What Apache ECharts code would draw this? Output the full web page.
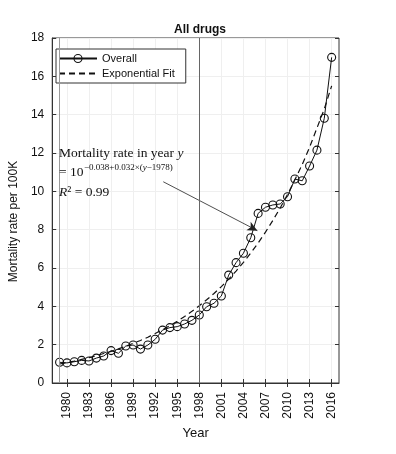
<!DOCTYPE html>
<html>
<head>
<meta charset="utf-8">
<script src="https://cdn.jsdelivr.net/npm/echarts@6/dist/echarts.min.js"></script>
<style>
  html, body { margin: 0; padding: 0; background: #fff; }
  #chart { width: 396px; height: 454px; }
</style>
</head>
<body>
<div id="chart"></div>
<script>
// 年份與死亡率 (每十萬人)
const years = [1979, 1980, 1981, 1982, 1983, 1984, 1985, 1986, 1987, 1988,
  1989, 1990, 1991, 1992, 1993, 1994, 1995, 1996, 1997, 1998,
  1999, 2000, 2001, 2002, 2003, 2004, 2005, 2006, 2007, 2008,
  2009, 2010, 2011, 2012, 2013, 2014, 2015, 2016]
const overall = [1.08, 1.05, 1.11, 1.18, 1.15, 1.30, 1.41, 1.69, 1.55, 1.93,
  1.98, 1.77, 1.98, 2.28, 2.76, 2.89, 2.94, 3.08, 3.27, 3.55,
  3.98, 4.16, 4.54, 5.63, 6.28, 6.77, 7.58, 8.85, 9.17, 9.29,
  9.34, 9.72, 10.64, 10.55, 11.32, 12.15, 13.81, 16.99]
// 指數擬合曲線
const expFit = [0.99, 1.06, 1.14, 1.23, 1.32, 1.43, 1.54, 1.65, 1.78, 1.92,
  2.07, 2.22, 2.39, 2.58, 2.78, 2.99, 3.22, 3.47, 3.74, 4.03,
  4.34, 4.67, 5.03, 5.42, 5.84, 6.29, 6.78, 7.30, 7.87, 8.48,
  9.13, 9.84, 10.6, 11.4, 12.3, 13.3, 14.3, 15.5]
// 刻度
const xTicks = [1980, 1983, 1986, 1989, 1992, 1995, 1998, 2001, 2004, 2007, 2010, 2013, 2016]
const refYears = [1979, 1998]

const mChart = echarts.init(document.getElementById('chart'))
const sans = 'Liberation Sans'
const serif = 'Liberation Serif'

const option = {
  animation: false,
  backgroundColor: '#fff',
  title: {
    text: 'All drugs',
    left: 195,
    top: 19,
    textAlign: 'center',
    textStyle: { fontFamily: sans, fontSize: 12, fontWeight: 'bold', color: '#111' }
  },
  legend: {
    orient: 'vertical',
    left: 56,
    top: 49,
    padding: [4, 11, 4, 2],
    itemGap: 4,
    itemWidth: 38,
    itemHeight: 10,
    borderColor: '#333',
    borderWidth: 1,
    backgroundColor: '#fff',
    textStyle: { fontFamily: sans, fontSize: 11, color: '#111' },
    data: [
      { name: 'Overall', itemStyle: { color: 'rgba(255,255,255,0)', borderColor: '#111', borderWidth: 1.1 } },
      { name: 'Exponential Fit', itemStyle: { opacity: 0 } }
    ]
  },
  grid: {
    left: 44,
    right: 57,
    top: 38,
    bottom: 71,
    show: true,
    borderColor: '#333',
    borderWidth: 1
  },
  xAxis: [
    {
      type: 'value',
      min: 1978,
      max: 2017,
      name: 'Year',
      nameLocation: 'middle',
      nameGap: 40,
      nameTextStyle: { fontFamily: sans, fontSize: 13, color: '#111' },
      axisLine: { lineStyle: { color: '#333' } },
      axisTick: { inside: true, length: 4, customValues: xTicks, lineStyle: { color: '#333' } },
      axisLabel: {
        customValues: xTicks,
        formatter: (v) => String(v),
        rotate: 90,
        margin: 9,
        fontFamily: sans,
        fontSize: 12,
        color: '#111'
      },
      splitLine: { show: true, lineStyle: { color: '#efefef' } }
    },
    {
      type: 'value',
      position: 'top',
      min: 1978,
      max: 2017,
      axisLine: { show: false },
      axisTick: { inside: true, length: 4, customValues: xTicks, lineStyle: { color: '#333' } },
      axisLabel: { show: false },
      splitLine: { show: false }
    }
  ],
  yAxis: [
    {
      type: 'value',
      min: 0,
      max: 18,
      interval: 2,
      name: 'Mortality rate per 100K',
      nameLocation: 'middle',
      nameGap: 15,
      nameTextStyle: { fontFamily: sans, fontSize: 12, color: '#111', padding: [0, 22, 0, 0] },
      axisLine: { show: true, lineStyle: { color: '#333' } },
      axisTick: { show: true, inside: true, length: 4, lineStyle: { color: '#333' } },
      axisLabel: { fontFamily: sans, fontSize: 12, color: '#111', margin: 8 },
      splitLine: { show: true, lineStyle: { color: '#efefef' } }
    },
    {
      type: 'value',
      position: 'right',
      min: 0,
      max: 18,
      interval: 2,
      axisLine: { show: false },
      axisTick: { show: true, inside: true, length: 4, lineStyle: { color: '#333' } },
      axisLabel: { show: false },
      splitLine: { show: false }
    }
  ],
  graphic: [
    {
      type: 'text',
      left: 59,
      top: 146,
      z: 100,
      style: {
        text: 'Mortality rate in year {i|y}',
        font: '13.5px "Liberation Serif"',
        fill: '#111',
        rich: { i: { fontFamily: serif, fontStyle: 'italic', fontSize: 13.5 } }
      }
    },
    {
      type: 'text',
      left: 59,
      top: 165,
      z: 100,
      style: { text: '= 10', font: '13.5px "Liberation Serif"', fill: '#111' }
    },
    {
      type: 'text',
      left: 84,
      top: 163,
      z: 100,
      style: {
        text: '−0.038+0.032×({i|y}−1978)',
        font: '9px "Liberation Serif"',
        fill: '#111',
        rich: { i: { fontFamily: serif, fontStyle: 'italic', fontSize: 9 } }
      }
    },
    {
      type: 'text',
      left: 59,
      top: 185,
      z: 100,
      style: {
        text: '{i|R}² = 0.99',
        font: '13.5px "Liberation Serif"',
        fill: '#111',
        rich: { i: { fontFamily: serif, fontStyle: 'italic', fontSize: 13.5 } }
      }
    }
  ],
  series: [
    {
      name: 'Overall',
      type: 'line',
      data: years.map((y, i) => [y, overall[i]]),
      symbol: 'circle',
      symbolSize: 8,
      itemStyle: { color: 'rgba(255,255,255,0)', borderColor: '#111', borderWidth: 1.1 },
      lineStyle: { color: '#111', width: 1 },
      z: 3,
      markLine: {
        silent: true,
        symbol: ['none', 'arrow'],
        symbolSize: [7, 10],
        label: { show: false },
        lineStyle: { color: '#222', width: 0.8, type: 'solid' },
        data: [
          [{ coord: [1993.1, 10.5] }, { coord: [2005.9, 7.95] }]
        ]
      }
    },
    {
      name: 'Exponential Fit',
      type: 'line',
      data: years.map((y, i) => [y, expFit[i]]),
      showSymbol: false,
      symbol: 'none',
      itemStyle: { color: '#111' },
      lineStyle: { color: '#111', width: 1.2, type: [6, 4] },
      z: 2,
      markLine: {
        silent: true,
        symbol: 'none',
        label: { show: false },
        data: [
          { xAxis: refYears[0], lineStyle: { color: '#9a9a9a', width: 1, type: 'solid' } },
          { xAxis: refYears[1], lineStyle: { color: '#666', width: 1, type: 'solid' } }
        ]
      }
    }
  ]
}
mChart.setOption(option)
</script>
</body>
</html>
